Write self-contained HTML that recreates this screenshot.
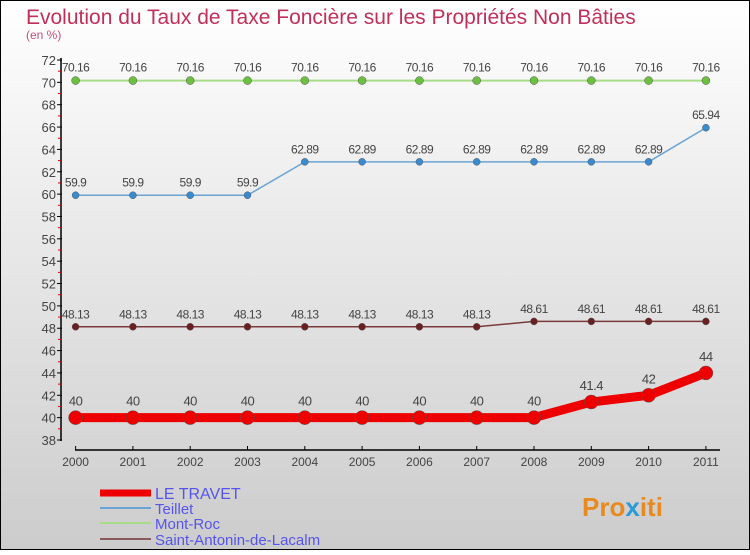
<!DOCTYPE html>
<html><head><meta charset="utf-8"><style>
body{margin:0;width:750px;height:550px;overflow:hidden;font-family:"Liberation Sans",sans-serif}
</style></head><body>
<svg id="c" width="750" height="550" xmlns="http://www.w3.org/2000/svg">
<defs><linearGradient id="bg" x1="0" y1="0" x2="0" y2="1"><stop offset="0" stop-color="#ffffff"/><stop offset="1" stop-color="#cccccc"/></linearGradient></defs>
<rect x="0.5" y="0.5" width="749" height="549" fill="url(#bg)" stroke="#000"/>
<text x="26" y="24" font-size="21" fill="#c0305a">Evolution du Taux de Taxe Foncière sur les Propriétés Non Bâties</text>
<text x="26" y="39" font-size="12" fill="#c0507a">(en %)</text>
<g id="axes"></g><g id="series"></g><g id="legend"></g>
<text x="582" y="516" font-size="26" font-weight="bold" fill="#e88a20">Pro<tspan fill="#2a9ad8">x</tspan>iti</text>
</svg>
<script>
const years=[2000,2001,2002,2003,2004,2005,2006,2007,2008,2009,2010,2011];
const yTicks=[38,40,42,44,46,48,50,52,54,56,58,60,62,64,66,68,70,72];
const seriesNames=["LE TRAVET","Teillet","Mont-Roc","Saint-Antonin-de-Lacalm"];
const leTravet=[40,40,40,40,40,40,40,40,40,41.4,42,44];
const teillet=[59.9,59.9,59.9,59.9,62.89,62.89,62.89,62.89,62.89,62.89,62.89,65.94];
const montRoc=[70.16,70.16,70.16,70.16,70.16,70.16,70.16,70.16,70.16,70.16,70.16,70.16];
const saintAntonin=[48.13,48.13,48.13,48.13,48.13,48.13,48.13,48.13,48.61,48.61,48.61,48.61];
const NS="http://www.w3.org/2000/svg";
const x=i=>75.6+i*57.3;
const y=v=>440-(v-38)*(380/34);
function mk(t,a,p){const e=document.createElementNS(NS,t);for(const k in a)e.setAttribute(k,a[k]);p.appendChild(e);return e;}
const ax=document.getElementById('axes');
let l=mk('line',{x1:61,y1:58,x2:61,y2:441,stroke:'#000','stroke-width':1.5},ax);


l=mk('line',{x1:75,y1:450,x2:720,y2:450,stroke:'#000','stroke-width':1.5},ax);


yTicks.forEach((v,i)=>{
  mk('line',{x1:57,y1:y(v),x2:62,y2:y(v),stroke:'#000'},ax);
  if(i<yTicks.length-1)mk('line',{x1:58,y1:y(v+1),x2:61,y2:y(v+1),stroke:'#d00'},ax);
  const t=mk('text',{x:56,y:y(v)+5,'font-size':13,'text-anchor':'end',fill:'#444'},ax);t.textContent=v;
  
  
});
years.forEach((yr,i)=>{
  mk('line',{x1:x(i),y1:446,x2:x(i),y2:450,stroke:'#000'},ax);
  const t=mk('text',{x:x(i),y:466,'font-size':12,'text-anchor':'middle',fill:'#444'},ax);t.textContent=yr;
  
  
});
const sg=document.getElementById('series');
function draw(vals,color,dot,w,r,fs,name){
  const g=mk('g',{},sg);
  
  
  mk('polyline',{points:vals.map((v,i)=>x(i)+','+y(v)).join(' '),fill:'none',stroke:color,'stroke-width':w},g);
  vals.forEach((v,i)=>{
    const c=mk('circle',{cx:x(i),cy:y(v),r:r,fill:dot,stroke:'#555','stroke-width':0.5},g);
    
    
    const t=mk('text',{x:x(i),y:y(v)-(r+5),'font-size':fs,'text-anchor':'middle',fill:'#444','letter-spacing':'-0.5'},g);t.textContent=v;
    
    
  });
}
draw(montRoc,'#a8dc88','#6cc040',2,4,12,'series-mont-roc');
draw(teillet,'#6aa4d4','#3a8ad0',1.5,3.5,12,'series-teillet');
draw(saintAntonin,'#7a3a3a','#6a2020',1.5,3.5,12,'series-saint-antonin');
draw(leTravet,'#ee0000','#ee0000',9,7,13,'series-le-travet');
const lg=document.getElementById('legend');
const lc=['#ee0000','#6aa4d4','#a8dc88','#8a5a5a'],lw=[7,2,2,2],ly=[493,508,523,539];
seriesNames.forEach((n,i)=>{
  const g=mk('g',{},lg);
  
  
  mk('line',{x1:100,y1:ly[i],x2:151,y2:ly[i],stroke:lc[i],'stroke-width':lw[i]},g);
  const t=mk('text',{x:155,y:ly[i]+6,'font-size':i==0?16:15,fill:'#5555ee'},g);t.textContent=n;
});
</script>
</body></html>
